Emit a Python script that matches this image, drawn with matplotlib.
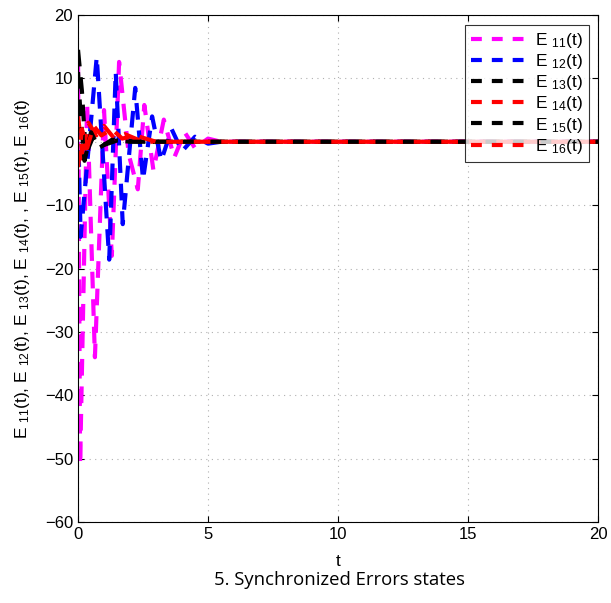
import matplotlib
matplotlib.use("Agg")
import matplotlib.pyplot as plt

plt.rcParams['mathtext.default'] = 'regular'
plt.rcParams['font.family'] = ['Liberation Sans', 'DejaVu Sans']

# ---- data (extrema) ----
t_e11 = [0.0, 0.08, 0.35, 0.65, 1.0, 1.3, 1.58, 1.95, 2.3, 2.55, 2.9, 3.3, 3.7, 4.1, 4.5, 5.0, 5.5, 20.0]
v_e11 = [13.0, -51.0, 6.0, -34.0, 5.0, -18.0, 12.6, -2.0, -7.5, 5.8, -4.5, 3.5, -2.5, 1.5, -1.0, 0.5, 0.0, 0.0]

t_e12 = [0.0, 0.1, 0.72, 1.2, 1.45, 1.72, 2.2, 2.5, 2.85, 3.2, 3.6, 4.0, 4.5, 5.0, 5.5, 20.0]
v_e12 = [3.0, -15.0, 13.4, -18.6, 11.0, -13.0, 8.5, -6.0, 4.0, -3.0, 2.0, -1.5, 0.8, -0.3, 0.0, 0.0]

t_e13 = [0.0, 0.15, 0.3, 0.6, 1.0, 1.5, 2.5, 20.0]
v_e13 = [14.5, 8.0, -2.0, 1.0, -0.5, 0.2, 0.0, 0.0]

t_e14 = [0.0, 0.2, 0.4, 0.7, 1.0, 1.4, 1.8, 2.5, 20.0]
v_e14 = [4.0, -3.0, 3.0, 1.0, 2.5, 0.5, 1.2, 0.0, 0.0]

t_e15 = [0.0, 0.1, 0.25, 0.5, 0.8, 1.3, 2.0, 20.0]
v_e15 = [11.0, 4.0, -3.0, 1.5, -1.0, 0.3, 0.0, 0.0]

t_e16 = [0.0, 0.15, 0.35, 0.6, 0.9, 1.3, 1.7, 2.2, 3.0, 20.0]
v_e16 = [-4.0, 2.0, -1.0, 2.5, 1.0, 2.0, 0.5, 1.0, 0.0, 0.0]

labels = [r'E $_{11}$(t)', r'E $_{12}$(t)', r'E $_{13}$(t)',
          r'E $_{14}$(t)', r'E $_{15}$(t)', r'E $_{16}$(t)']
colors = ['#ff00ff', '#0000ff', '#000000', '#ff0000', '#000000', '#ff0000']

xticks = [0, 5, 10, 15, 20]
yticks = [-60, -50, -40, -30, -20, -10, 0, 10, 20]

fig = plt.figure(figsize=(6.11, 6.03), dpi=100)
ax = fig.add_axes([0.1277, 0.1343, 0.851, 0.8408])

series = [(t_e11, v_e11), (t_e12, v_e12), (t_e13, v_e13),
          (t_e14, v_e14), (t_e15, v_e15), (t_e16, v_e16)]
for (t, v), c, lab in zip(series, colors, labels):
    ln, = ax.plot(t, v, color=c, lw=3.0, label=lab)
    ln.set_dashes((4.0, 2.6))

ax.set_xlim(0, 20)
ax.set_ylim(-60, 20)
ax.set_xticks(xticks)
ax.set_yticks(yticks)
ax.tick_params(direction='in', labelsize=12, length=4, top=True, right=True)
ax.grid(True, linestyle=(0, (1, 4)), color='#b0b0b0', linewidth=0.8)
for s in ax.spines.values():
    s.set_linewidth(0.8)

ax.set_xlabel('t', fontsize=12.5, labelpad=9)
ax.set_ylabel(r'E $_{11}$(t), E $_{12}$(t), E $_{13}$(t), E $_{14}$(t), , E $_{15}$(t), E $_{16}$(t)',
              fontsize=12.5, labelpad=9)

leg = ax.legend(loc='upper right', fontsize=12.5, frameon=True, fancybox=False,
                edgecolor='black', handlelength=3.3, handletextpad=0.4,
                labelspacing=0.12, borderpad=0.35, borderaxespad=0,
                bbox_to_anchor=(0.983, 0.980))
leg.get_frame().set_linewidth(0.8)
for h in leg.get_lines():
    h.set_linewidth(3.0)
    h.set_dashes((2.6, 2.4))

fig.text(0.555, 0.038, '5. Synchronized Errors states', ha='center', va='center',
         fontsize=13.3, family=['Open Sans', 'DejaVu Sans'])

fig.savefig('out.png', dpi=100)
